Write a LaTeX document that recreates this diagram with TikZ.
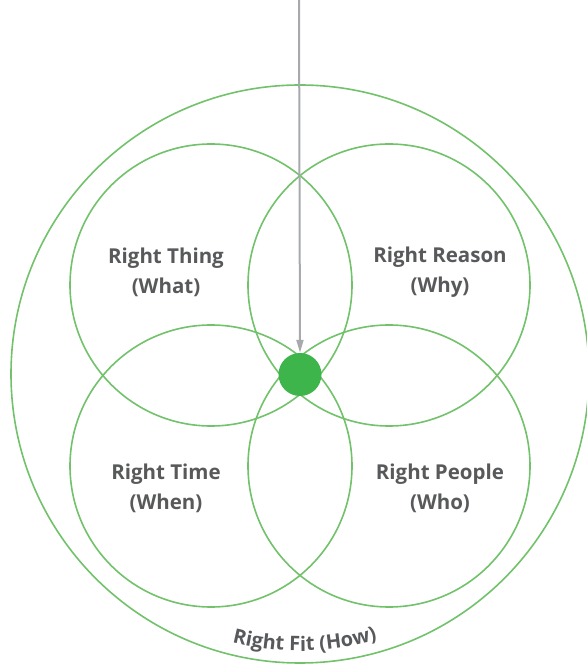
\documentclass[tikz,border=0pt]{standalone}
\usepackage{fontspec}
\setmainfont{Open Sans}
\usetikzlibrary{arrows.meta,decorations.text}
\definecolor{ringgreen}{HTML}{72C16B}
\definecolor{dotgreen}{HTML}{3DB54A}
\definecolor{txtgray}{HTML}{58595B}
\definecolor{arrgray}{HTML}{A7A9AC}

\begin{document}
\begin{tikzpicture}[x=1pt, y=1pt,
  ring/.style={circle, draw=ringgreen, line width=1.6pt,
               minimum size=282pt, inner sep=0pt},
  lbl/.style={align=center, text=txtgray,
              font=\fontsize{20.5}{30}\selectfont\bfseries},
  hubdot/.style={circle, fill=dotgreen, minimum size=43pt, inner sep=0pt},
  arr/.style={-{Triangle[length=13pt, width=7pt]}, draw=arrgray, line width=2pt},
]
  \useasboundingbox (0,0) rectangle (587,665);

  % outer ring and the four overlapping circles
  \node[ring, minimum size=578pt] (fit) at (300,291) {};
  \node[ring] (what) at (211,380) {};
  \node[ring] (why)  at (389,380) {};
  \node[ring] (when) at (211,199) {};
  \node[ring] (who)  at (389,199) {};

  \node[lbl] (whatlbl) at (166,393) {Right Thing\\(What)};
  \node[lbl] (whylbl)  at (440,393) {Right Reason\\(Why)};
  \node[lbl] (whenlbl) at (166,177) {Right Time\\(When)};
  \node[lbl] (wholbl)  at (440,177) {Right People\\(Who)};

  % centre point and the arrow into it
  \node[hubdot] (hub) at (300,290.5) {};
  \coordinate (top) at (299,665);
  \draw[arr] (top) -- (hub.north);

  % label bent along the outer ring
  \path[decorate, decoration={text along path, text align=center,
        text={|\fontsize{20}{20}\selectfont\bfseries\color{txtgray}|Right Fit (How)}}]
    (fit.center) ++(240:277) arc[start angle=240, end angle=302, radius=277];
\end{tikzpicture}
\end{document}
